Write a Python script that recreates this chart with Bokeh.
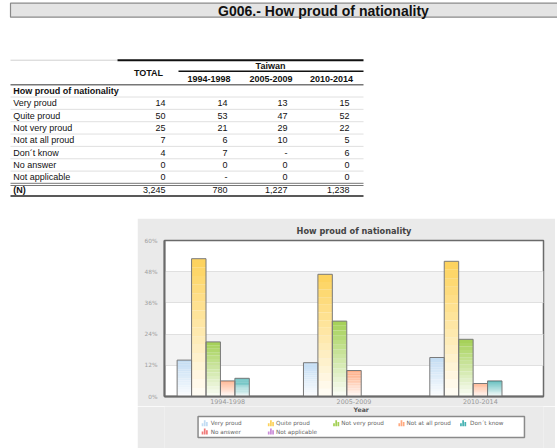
from bokeh.plotting import figure
from bokeh.models import (Range1d, ColumnDataSource, FixedTicker, PrintfTickFormatter, Spacer)
from bokeh.layouts import column, row
from bokeh.embed import file_html
from bokeh.resources import INLINE
from bokeh.core.properties import value

# ---------------- data ----------------
page_title = "G006.- How proud of nationality"
chart_title = "How proud of nationality"
row_header = "How proud of nationality"
country = "Taiwan"
total_header = "TOTAL"
periods = ["1994-1998", "2005-2009", "2010-2014"]
categories = ["Very proud", "Quite proud", "Not very proud", "Not at all proud",
              "Don´t know", "No answer", "Not applicable"]
total = [14, 50, 25, 7, 4, 0, 0]
p1994 = [14, 53, 21, 6, 7, 0, None]
p2005 = [13, 47, 29, 10, None, 0, 0]
p2010 = [15, 52, 22, 5, 6, 0, 0]
n_label = "(N)"
n_values = ["3,245", "780", "1,227", "1,238"]
y_ticks = [0, 12, 24, 36, 48, 60]
x_label = "Year"

colors = ["#c2dcf3", "#fdd25a", "#a3d054", "#ffa97f", "#45b2b2", "#f07a7a", "#c98bd8"]

FONT = "Liberation Sans"
CFONT = "DejaVu Sans"
PANEL = "#eaeaea"

# ---------------- table figure ----------------
W = 557
HA = 218
pa = figure(width=W, height=HA, x_range=Range1d(0, W), y_range=Range1d(HA, 0),
            output_backend="svg", toolbar_location=None, min_border=0,
            outline_line_color=None, x_axis_location=None, y_axis_location=None)
pa.grid.visible = False

# title bar
pa.quad(left=[10], right=[W + 10], top=[2.7], bottom=[16.7],
        fill_color="#e4e4e4", line_color="#8a8a8a", line_width=1.2)
pa.text(x=[323], y=[10], text=[page_title], text_align="center",
        text_baseline="middle", text_font=value(FONT), text_font_size="14px",
        text_font_style="bold", text_color="#111")

# table rules
pa.segment(x0=[10], x1=[117], y0=[59.7], y1=[59.7], line_color="#d0d0d0", line_width=1)
pa.segment(x0=[117], x1=[363], y0=[59.7], y1=[59.7], line_color="#111", line_width=2)
pa.segment(x0=[178], x1=[363], y0=[70.7], y1=[70.7], line_color="#111", line_width=1.5)
pa.segment(x0=[10], x1=[363], y0=[84.3], y1=[84.3], line_color="#777", line_width=1.5)
row_y = [102.7 + 12.35 * k for k in range(len(categories))]
for k in range(len(categories)):
    yl = row_y[k] - 6.2
    pa.segment(x0=[10], x1=[363], y0=[yl], y1=[yl], line_color="#d8d8d8", line_width=0.8)
pa.segment(x0=[10], x1=[363], y0=[182.8], y1=[182.8], line_color="#777", line_width=1)
pa.segment(x0=[10], x1=[363], y0=[185], y1=[185], line_color="#777", line_width=1)
pa.segment(x0=[10], x1=[363], y0=[195.5], y1=[195.5], line_color="#222", line_width=1.5)

def txt(x, y, s, align="left", bold=False, size="9px"):
    pa.text(x=[x], y=[y], text=[s], text_align=align, text_baseline="middle",
            text_font=value(FONT), text_font_size=size,
            text_font_style="bold" if bold else "normal", text_color="#111")

txt(148, 72, total_header, "center", True)
txt(270, 65, country, "center", True)
col_right = [165, 227, 287, 349]
head_center = [208.5, 270.5, 331]
for c, lab in zip(head_center, periods):
    txt(c, 78.3, lab, "center", True)
txt(12.7, 90, row_header, "left", True)

def fmt(v):
    return "-" if v is None else str(v)

cols = [total, p1994, p2005, p2010]
for k, cat in enumerate(categories):
    txt(12.7, row_y[k], cat)
    for ci, col in enumerate(cols):
        txt(col_right[ci], row_y[k], fmt(col[k]), "right")
yN = 189.5
txt(12.7, yN, n_label, "left", True)
for ci, s in enumerate(n_values):
    txt(col_right[ci], yN, s, "right")

# ---------------- chart figure ----------------
PX0 = 137
WB = 418
HB = 188
pb = figure(width=WB, height=HB, x_range=Range1d(-0.5, 2.5), y_range=Range1d(0, 60),
            output_backend="svg", toolbar_location=None,
            min_border_left=27, min_border_right=12, min_border_top=21, min_border_bottom=10,
            border_fill_color=PANEL, background_fill_color="white",
            outline_line_color="#6a6a6a", outline_line_width=1.5,
            title=chart_title)
pb.title.align = "center"
pb.title.text_font = CFONT
pb.title.text_font_size = "8.2px"
pb.title.text_font_style = "bold"
pb.title.text_color = "#444"

pb.xgrid.visible = False
pb.ygrid.ticker = FixedTicker(ticks=y_ticks)
pb.ygrid.grid_line_color = "#e0e0e0"
pb.ygrid.grid_line_width = 1.2
pb.ygrid.band_fill_color = "#f3f3f3"
pb.ygrid.band_fill_alpha = 1

pb.yaxis.ticker = FixedTicker(ticks=y_ticks)
pb.yaxis.formatter = PrintfTickFormatter(format="%d%%")
pb.yaxis.major_label_text_font = CFONT
pb.yaxis.major_label_text_font_size = "5.8px"
pb.yaxis.major_label_text_color = "#a0a0a0"
pb.yaxis.major_tick_line_color = None
pb.yaxis.minor_tick_line_color = None
pb.yaxis.major_tick_out = 0
pb.yaxis.major_tick_in = 0
pb.yaxis.minor_tick_out = 0
pb.yaxis.minor_tick_in = 0
pb.yaxis.axis_line_color = "#6a6a6a"
pb.yaxis.axis_line_width = 2
pb.yaxis.major_label_standoff = 7

pb.xaxis.ticker = FixedTicker(ticks=list(range(len(periods))))
pb.xaxis.major_label_overrides = {i: p for i, p in enumerate(periods)}
pb.xaxis.major_label_text_font = CFONT
pb.xaxis.major_label_text_font_size = "6.4px"
pb.xaxis.major_label_text_color = "#999999"
pb.xaxis.major_tick_line_color = None
pb.xaxis.minor_tick_line_color = None
pb.xaxis.major_tick_out = 0
pb.xaxis.major_tick_in = 0
pb.xaxis.minor_tick_out = 0
pb.xaxis.minor_tick_in = 0
pb.xaxis.axis_line_color = "#6a6a6a"
pb.xaxis.axis_line_width = 2
pb.xaxis.major_label_standoff = 2

def hex2rgb(h):
    h = h.lstrip("#")
    return tuple(int(h[i:i + 2], 16) for i in (0, 2, 4))

def blend(c, t):
    r, g, b = hex2rgb(c)
    return "#%02x%02x%02x" % (round(255 + (r - 255) * t), round(255 + (g - 255) * t),
                              round(255 + (b - 255) * t))

series_vals = [[p1994[j], p2005[j], p2010[j]] for j in range(len(categories))]
nser = len(categories)
group = 0.8
bw = group / nser
NSEG = 16
ox, otop = [], []
for j, cat in enumerate(categories):
    xs, bots, tops, cols_ = [], [], [], []
    for i, v in enumerate(series_vals[j]):
        xc = i - group / 2 + (j + 0.5) * bw
        vv = float("nan") if v is None else float(v)
        for k in range(NSEG):
            xs.append(xc)
            bots.append(vv * k / NSEG)
            tops.append(vv * (k + 1) / NSEG)
            cols_.append(blend(colors[j], 0.04 + 0.96 * (k + 0.5) / NSEG))
        if v is not None and v > 0:
            ox.append(xc)
            otop.append(vv)
    src = ColumnDataSource(dict(x=xs, bottom=bots, top=tops, color=cols_))
    pb.vbar(x="x", bottom="bottom", top="top", width=bw, source=src,
            fill_color="color", line_color=None)

pb.vbar(x=ox, top=otop, bottom=0, width=bw, fill_color=None, line_color="#7a7a7a", line_width=1)

# ---------------- axis title + legend strip ----------------
LY0 = 218 + HB
HL = 448 - LY0
pl = figure(width=WB, height=HL, x_range=Range1d(PX0, PX0 + WB), y_range=Range1d(LY0 + HL, LY0),
            output_backend="svg", toolbar_location=None, min_border=0,
            border_fill_color=PANEL, background_fill_color=PANEL,
            outline_line_color=None, x_axis_location=None, y_axis_location=None)
pl.grid.visible = False
pl.text(x=[354], y=[408.5], text=[x_label], text_align="center", text_baseline="middle",
        text_font=value(CFONT), text_font_size="6.2px", text_font_style="bold",
        text_color="#555")
pl.quad(left=[174], right=[534], top=[416], bottom=[437], fill_color="white",
        line_color="#8a8a8a", line_width=1.5)
icon_x = [178, 251, 323, 395, 463, 178, 251]
text_x = [188, 260, 332, 404, 474, 188, 260]
item_y = [422.7] * 5 + [431] * 2
il, ir, it, ib, ic = [], [], [], [], []
for j in range(len(categories)):
    for b, h in enumerate([3.0, 6.0, 4.2]):
        il.append(icon_x[j] + b * 2.4)
        ir.append(icon_x[j] + b * 2.4 + 1.9)
        ib.append(item_y[j] + 3)
        it.append(item_y[j] + 3 - h)
        ic.append(colors[j])
pl.quad(left=il, right=ir, top=it, bottom=ib, fill_color=ic, line_color=None)
pl.text(x=text_x, y=item_y, text=categories, text_baseline="middle",
        text_font=value(CFONT), text_font_size="5.7px", text_color="#666")

layout = column(pa, row(Spacer(width=PX0, height=HB + HL), column(pb, pl, spacing=0), spacing=0),
                spacing=0)
open("out.html", "w").write(file_html(layout, INLINE))
